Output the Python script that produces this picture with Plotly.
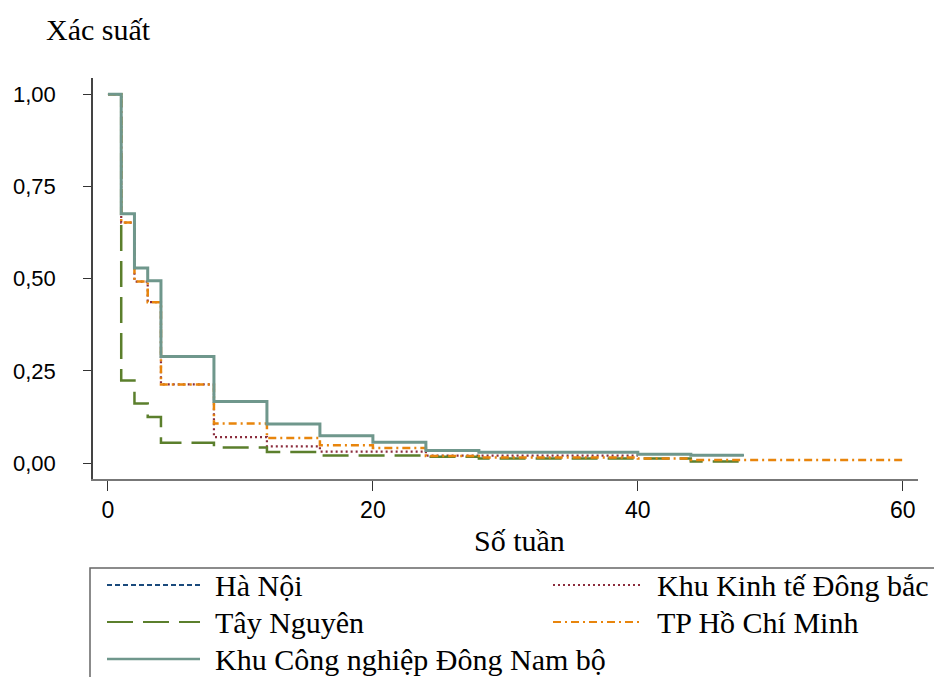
import plotly.graph_objects as go

# ---- data (weeks, survival probability) ----
names = ["Hà Nội", "Khu Kinh tế Đông bắc", "Tây Nguyên", "TP Hồ Chí Minh",
         "Khu Công nghiệp Đông Nam bộ"]

hn_t = [0, 1, 2, 3, 4, 8, 12, 16, 20, 24, 28, 40, 44, 48]
hn_s = [1.0, 0.676, 0.529, 0.494, 0.289, 0.167, 0.106, 0.074, 0.056, 0.034, 0.029, 0.024, 0.021, 0.021]

kkt_t = [0, 1, 2, 3, 4, 8, 12, 16, 24, 40]
kkt_s = [1.0, 0.652, 0.492, 0.436, 0.213, 0.070, 0.045, 0.031, 0.020, 0.020]

tn_t = [0, 1, 2, 3, 4, 8, 12, 16, 24, 28, 40, 44, 48]
tn_s = [1.0, 0.224, 0.161, 0.125, 0.055, 0.042, 0.030, 0.020, 0.017, 0.012, 0.012, 0.004, 0.0]

hcm_t = [0, 1, 2, 3, 4, 8, 12, 16, 20, 24, 28, 40, 44, 60]
hcm_s = [1.0, 0.652, 0.492, 0.436, 0.213, 0.107, 0.068, 0.048, 0.041, 0.019, 0.015, 0.012, 0.008, 0.008]

kcn_t = [0, 1, 2, 3, 4, 8, 12, 16, 20, 24, 28, 40, 44, 48]
kcn_s = [1.0, 0.676, 0.529, 0.494, 0.289, 0.167, 0.106, 0.074, 0.056, 0.034, 0.029, 0.024, 0.021, 0.021]

x_ticks = [0, 20, 40, 60]
y_ticks = [0.0, 0.25, 0.5, 0.75, 1.0]

colors = ["#1a4a7c", "#8b2c3c", "#5b7f2c", "#e8850c", "#6f978c"]
widths = [1.5, 2.2, 2.5, 2.5, 3.0]
legend_widths = [2.0, 2.0, 2.2, 2.0, 2.4]
dashes = ["5px,3px", "2px,3px", "26px,10px", "8px,4px,2px,4px", "solid"]
times = [hn_t, kkt_t, tn_t, hcm_t, kcn_t]
surv = [hn_s, kkt_s, tn_s, hcm_s, kcn_s]

W, H = 934, 677
ML, MR, MT, MB = 93, 16, 78, 198
PW, PH = W - ML - MR, H - MT - MB


def px(xp):
    return (xp - ML) / PW


def py(yp):
    return (H - MB - yp) / PH


fig = go.Figure()
for i in range(5):
    fig.add_trace(go.Scatter(x=times[i], y=surv[i], mode="lines", name=names[i],
                             showlegend=False,
                             line=dict(color=colors[i], width=widths[i],
                                       dash=dashes[i], shape="hv")))

serif = "Liberation Serif"
sans = "Liberation Sans"

# ---- custom legend (box, samples, labels) ----
shapes = [dict(type="rect", xref="paper", yref="paper",
               x0=px(90), x1=px(1000), y0=py(568), y1=py(720),
               line=dict(color="#666666", width=1.5), fillcolor="white", layer="above")]
annotations = []
slots = [(0, 0), (0, 1), (1, 0), (1, 1), (2, 0)]
row_y = [585, 622, 659]
col_sample = [(107, 200), (553, 640)]
col_text = [213, 655]
for i, (r, c) in enumerate(slots):
    shapes.append(dict(type="line", xref="paper", yref="paper",
                       x0=px(col_sample[c][0]), x1=px(col_sample[c][1]),
                       y0=py(row_y[r]), y1=py(row_y[r]),
                       line=dict(color=colors[i], width=legend_widths[i], dash=dashes[i]),
                       layer="above"))
    annotations.append(dict(text=names[i], xref="paper", yref="paper",
                            x=px(col_text[c]), y=py(row_y[r]),
                            xanchor="left", yanchor="middle", showarrow=False,
                            font=dict(family=serif, size=30, color="black")))

annotations += [
    dict(text="Xác suất", xref="paper", yref="paper", x=px(98.5), y=py(30),
         xanchor="center", yanchor="middle",
         showarrow=False, font=dict(family=serif, size=30, color="black")),
    dict(text="Số tuần", xref="paper", yref="paper", x=px(519), y=py(540),
         xanchor="center", yanchor="middle",
         showarrow=False, font=dict(family=serif, size=30, color="black")),
]

fig.update_layout(
    width=W, height=H,
    margin=dict(l=ML, r=MR, t=MT, b=MB, autoexpand=False),
    paper_bgcolor="white", plot_bgcolor="white",
    separators=", ",
    showlegend=False,
    xaxis=dict(range=[-1.13, 61.15], tickvals=x_ticks, showgrid=False, zeroline=False,
               showline=True, linecolor="#777777", linewidth=1.5,
               ticks="outside", ticklen=10, tickcolor="#333333", tickwidth=1.2,
               tickfont=dict(family=sans, size=23, color="black")),
    yaxis=dict(range=[-0.0434, 1.044], tickvals=y_ticks, tickformat=".2f",
               showgrid=False, zeroline=False,
               showline=True, linecolor="#444444", linewidth=1.5,
               ticks="outside", ticklen=8, tickcolor="#333333", tickwidth=1.2,
               ticklabelstandoff=23,
               tickfont=dict(family=sans, size=22, color="black")),
    shapes=shapes,
    annotations=annotations,
)

fig.write_html("out.html")
